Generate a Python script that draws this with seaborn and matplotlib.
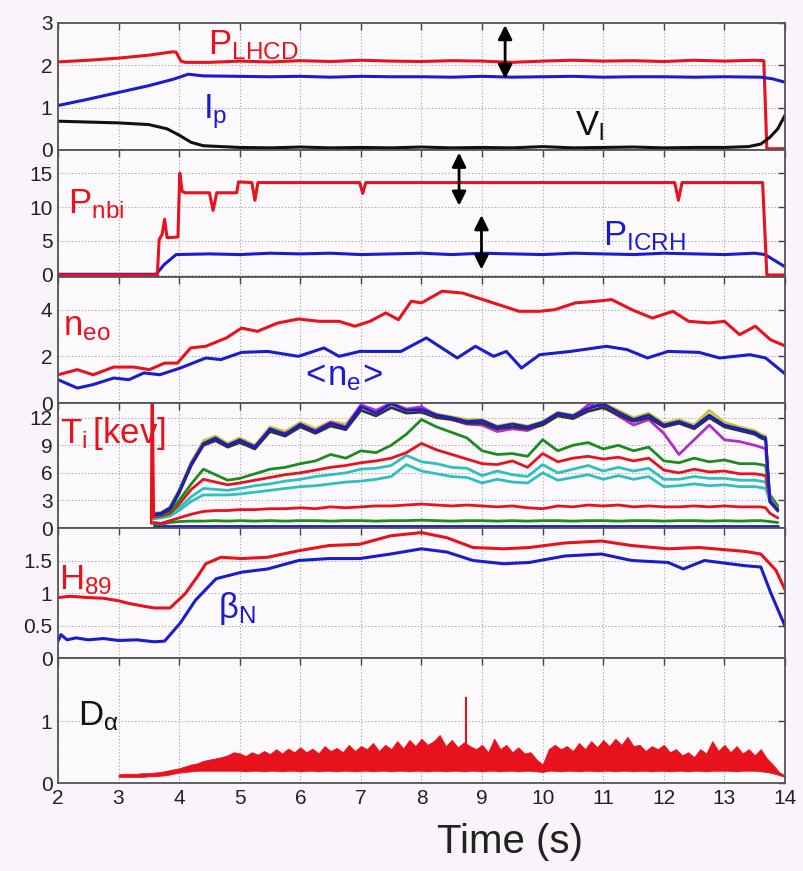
#!/usr/bin/env python3
"""
Tokamak shot overview - six stacked time traces sharing one time axis.
Values read off the reference figure by eye.
"""

import numpy as np
import pandas as pd
import matplotlib
matplotlib.use("Agg")
import matplotlib.pyplot as plt
import seaborn as sns

# ---------------- data ----------------
# panel 1: P_LHCD, Ip, V_loop
t_lhcd = [2.0, 2.5, 3.0, 3.5, 3.9, 3.95, 4.03, 4.1, 4.5, 5.0, 5.5, 6.0, 6.5, 7.0, 7.5,
          8.0, 8.5, 9.0, 9.5, 10.0, 10.5, 11.0, 11.5, 12.0, 12.5, 13.0, 13.5, 13.65, 13.7, 14.0]
p_lhcd = [2.08, 2.12, 2.17, 2.24, 2.32, 2.31, 2.1, 2.07, 2.07, 2.1, 2.08, 2.11, 2.09, 2.12, 2.1,
          2.09, 2.11, 2.1, 2.07, 2.1, 2.12, 2.1, 2.11, 2.09, 2.12, 2.1, 2.12, 2.11, 0.03, 0.03]

t_ip = [2.0, 2.5, 3.0, 3.5, 3.9, 4.15, 4.4, 5.0, 5.5, 6.0, 6.5, 7.0, 7.5, 8.0, 8.5, 9.0,
        9.5, 10.0, 10.5, 11.0, 11.5, 12.0, 12.5, 13.0, 13.6, 13.8, 14.0]
ip = [1.05, 1.2, 1.36, 1.52, 1.67, 1.79, 1.75, 1.74, 1.73, 1.74, 1.72, 1.74, 1.73, 1.73, 1.72, 1.74,
      1.72, 1.73, 1.74, 1.72, 1.73, 1.73, 1.72, 1.73, 1.72, 1.68, 1.6]

t_vl = [2.0, 2.5, 3.0, 3.5, 3.8, 4.0, 4.2, 4.4, 4.7, 5.0, 5.5, 6.0, 6.5, 7.0, 7.5, 8.0,
        8.5, 9.0, 9.5, 10.0, 10.5, 11.0, 11.5, 12.0, 12.5, 13.0, 13.4, 13.6, 13.75, 13.88, 14.0]
vl = [0.68, 0.66, 0.64, 0.6, 0.5, 0.35, 0.18, 0.1, 0.08, 0.06, 0.05, 0.07, 0.05, 0.06, 0.05, 0.07,
      0.05, 0.06, 0.05, 0.08, 0.05, 0.06, 0.07, 0.05, 0.06, 0.06, 0.08, 0.14, 0.3, 0.5, 0.82]

# panel 2: P_nbi, P_ICRH
t_nbi = [2.0, 3.64, 3.67, 3.72, 3.76, 3.8, 3.86, 3.98, 4.01, 4.05, 4.1, 4.5, 4.56, 4.62,
         4.95, 4.98, 5.2, 5.25, 5.3, 6.98, 7.03, 7.08, 12.18, 12.24, 12.3, 13.63, 13.7, 14.0]
p_nbi = [0, 0, 5.2, 6.0, 8.2, 5.5, 5.5, 5.6, 15.0, 12.3, 12.1, 12.1, 9.5, 12.1,
         12.1, 13.7, 13.6, 11.0, 13.6, 13.6, 12.0, 13.6, 13.6, 11.0, 13.6, 13.6, 0, 0]

t_icrh = [2.0, 3.62, 3.75, 3.95, 4.5, 5.0, 5.5, 6.0, 6.5, 7.0, 7.5, 8.0, 8.5, 9.0, 9.5,
          10.0, 10.5, 11.0, 11.5, 12.0, 12.5, 13.0, 13.5, 13.67, 14.0]
p_icrh = [0.1, 0.1, 1.5, 3.0, 3.1, 3.0, 3.2, 3.1, 3.2, 3.0, 3.1, 3.2, 3.0, 3.2, 3.1,
          3.0, 3.2, 3.1, 3.0, 3.2, 3.1, 3.0, 3.2, 3.0, 1.2]

# panel 3: central and line-averaged density
t_neo = [2.0, 2.32, 2.58, 2.92, 3.25, 3.51, 3.76, 3.97, 4.19, 4.44, 4.78, 5.03, 5.29, 5.63,
         5.97, 6.31, 6.64, 6.9, 7.15, 7.41, 7.62, 7.83, 8.0, 8.34, 8.68, 9.1, 9.61, 9.95,
         10.2, 10.54, 10.88, 11.14, 11.47, 11.81, 12.15, 12.41, 12.75, 13.0, 13.25, 13.51, 13.76, 14.0]
neo = [1.21, 1.43, 1.21, 1.54, 1.54, 1.43, 1.71, 1.71, 2.36, 2.43, 2.79, 3.21, 3.07, 3.43,
       3.6, 3.5, 3.5, 3.29, 3.5, 3.86, 3.57, 4.36, 4.29, 4.79, 4.71, 4.36, 3.93, 3.93,
       4.0, 4.29, 4.36, 4.43, 4.0, 3.64, 3.93, 3.5, 3.43, 3.5, 2.93, 3.29, 2.71, 2.45]

t_ne = [2.0, 2.32, 2.58, 2.92, 3.17, 3.42, 3.68, 4.02, 4.44, 4.69, 5.03, 5.46, 5.97, 6.39,
        6.64, 6.98, 7.66, 8.08, 8.59, 8.89, 9.19, 9.4, 9.65, 9.95, 10.46, 11.05, 11.39,
        11.73, 12.07, 12.58, 12.92, 13.42, 13.68, 14.0]
ne = [1.0, 0.64, 0.79, 1.07, 1.0, 1.29, 1.21, 1.5, 1.93, 1.86, 2.17, 2.21, 2.0, 2.36,
      2.0, 2.21, 2.21, 2.79, 1.93, 2.43, 2.0, 2.21, 1.5, 2.07, 2.21, 2.43, 2.29,
      1.93, 2.21, 2.17, 1.93, 2.07, 1.93, 1.25]

# panel 4: ion temperature at several radii (keV)
t_ti = [3.58, 3.7, 3.85, 4.0, 4.2, 4.4, 4.6, 4.8, 5.0,
        5.25, 5.5, 5.75, 6.0, 6.25, 6.5, 6.75, 7.0, 7.25, 7.5, 7.75, 8.0,
        8.25, 8.5, 8.75, 9.0, 9.25, 9.5, 9.75, 10.0, 10.25, 10.5, 10.75, 11.0,
        11.25, 11.5, 11.75, 12.0, 12.25, 12.5, 12.75, 13.0, 13.25, 13.5,
        13.6, 13.68, 13.75, 13.88]
ti_yellow = [1.6, 1.7, 2.3, 4.2, 7.2, 9.5, 10.0, 9.2, 9.8,
             9.0, 11.0, 10.5, 11.5, 10.8, 11.6, 11.3, 13.3, 12.7, 13.6, 13.0, 13.1,
             12.4, 12.1, 11.8, 11.8, 11.1, 11.4, 11.1, 11.6, 12.6, 12.3, 13.2, 13.6,
             12.8, 12.0, 12.5, 11.4, 11.8, 11.2, 12.8, 11.5, 11.0, 10.6,
             10.2, 10.0, 3.1, 2.1]
ti_purple = [1.5, 1.6, 2.1, 3.9, 6.9, 9.1, 9.7, 9.0, 9.5,
             8.9, 10.6, 10.3, 11.1, 10.6, 11.5, 11.0, 13.4, 12.8, 13.6, 12.9, 13.2,
             12.2, 11.8, 11.3, 11.2, 10.5, 10.8, 10.6, 11.3, 12.3, 12.0, 13.4, 13.2,
             12.2, 11.2, 11.8, 10.3, 8.0, 9.6, 11.2, 9.6, 9.4, 9.0,
             8.8, 8.6, 2.8, 1.9]
ti_black = [1.4, 1.5, 2.0, 3.8, 6.8, 9.0, 9.5, 8.8, 9.3,
            8.6, 10.5, 10.0, 11.0, 10.3, 11.1, 10.7, 12.8, 12.2, 13.1, 12.5, 12.6,
            12.0, 11.8, 11.4, 11.4, 10.8, 11.0, 10.8, 11.2, 12.2, 11.9, 12.7, 13.1,
            12.3, 11.6, 12.0, 11.0, 11.4, 10.8, 12.0, 11.0, 10.6, 10.2,
            9.8, 9.6, 2.9, 1.9]
ti_blue = [1.5, 1.6, 2.2, 4.0, 7.0, 9.2, 9.8, 9.0, 9.6,
           8.8, 10.8, 10.2, 11.3, 10.5, 11.4, 10.9, 13.2, 12.5, 13.5, 12.8, 12.9,
           12.3, 12.0, 11.6, 11.7, 11.0, 11.3, 11.0, 11.5, 12.5, 12.2, 13.0, 13.5,
           12.6, 11.8, 12.3, 11.2, 11.6, 11.0, 12.3, 11.2, 10.8, 10.4,
           10.0, 9.8, 3.0, 2.0]
ti_green = [1.3, 1.4, 1.8, 3.0, 4.8, 6.4, 5.8, 5.2, 5.4,
            5.9, 6.4, 6.6, 7.0, 7.3, 8.0, 7.6, 8.4, 8.2, 9.0, 10.2, 11.8,
            11.0, 10.4, 9.8, 8.4, 8.0, 8.1, 7.8, 9.6, 8.4, 9.0, 9.3, 8.6,
            9.0, 8.4, 8.8, 7.3, 7.1, 7.6, 7.2, 7.4, 7.0, 7.0,
            6.9, 6.8, 3.6, 2.4]
ti_red = [1.2, 1.3, 1.6, 2.6, 4.2, 5.3, 5.0, 4.7, 4.9,
          5.2, 5.5, 5.8, 6.0, 6.3, 6.6, 6.8, 7.1, 7.3, 7.6, 8.2, 9.2,
          8.5, 8.0, 7.5, 7.0, 6.9, 7.3, 6.6, 8.1, 7.2, 7.6, 7.8, 7.5,
          7.7, 7.3, 7.6, 6.3, 6.0, 6.4, 6.1, 6.2, 5.9, 5.9,
          5.8, 5.7, 3.2, 2.2]
ti_cyan1 = [1.1, 1.2, 1.4, 2.2, 3.4, 4.3, 4.2, 4.1, 4.3,
            4.6, 4.8, 5.1, 5.3, 5.6, 5.8, 6.0, 6.4, 6.5, 6.8, 7.9, 7.2,
            7.0, 6.6, 6.5, 5.7, 6.2, 5.8, 5.6, 6.9, 6.0, 6.4, 6.8, 6.2,
            6.6, 6.2, 6.5, 5.3, 5.3, 5.6, 5.4, 5.4, 5.2, 5.2,
            5.1, 5.0, 3.2, 2.0]
ti_cyan2 = [1.0, 1.1, 1.3, 1.9, 2.9, 3.6, 3.6, 3.6, 3.7,
            3.9, 4.1, 4.3, 4.5, 4.6, 4.8, 5.0, 5.1, 5.3, 5.6, 6.9, 6.2,
            5.9, 5.6, 5.5, 4.9, 5.3, 5.0, 4.9, 6.0, 5.2, 5.5, 5.8, 5.3,
            5.7, 5.3, 5.6, 4.5, 4.6, 4.8, 4.6, 4.7, 4.5, 4.5,
            4.4, 4.3, 2.9, 1.8]
ti_red_edge = [0.6, 0.5, 0.8, 1.1, 1.5, 1.8, 1.9, 1.9, 2.0,
               2.0, 2.1, 2.1, 2.2, 2.1, 2.3, 2.2, 2.3, 2.4, 2.4, 2.5, 2.6,
               2.5, 2.4, 2.5, 2.4, 2.3, 2.4, 2.2, 2.1, 2.4, 2.3, 2.5, 2.4,
               2.5, 2.3, 2.4, 2.3, 2.3, 2.4, 2.3, 2.4, 2.3, 2.3,
               2.3, 2.2, 1.6, 1.1]
ti_green_edge = [0.4, 0.4, 0.6, 0.7, 0.75, 0.75, 0.8, 0.75, 0.8,
                 0.75, 0.8, 0.75, 0.8, 0.8, 0.75, 0.8, 0.8, 0.75, 0.8, 0.8, 0.85,
                 0.8, 0.75, 0.8, 0.8, 0.75, 0.8, 0.75, 0.8, 0.8, 0.75, 0.8, 0.8,
                 0.75, 0.8, 0.8, 0.75, 0.8, 0.8, 0.75, 0.8, 0.75, 0.8,
                 0.8, 0.75, 0.7, 0.6]
t_ti_floor = [3.58, 13.88]
ti_floor = [0.25, 0.25]
t_ti_spike = [3.54, 3.55, 3.56, 3.58]
ti_spike = [0.5, 14.0, 14.0, 1.2]

# panel 5: H89 and beta_N
t_h89 = [2.0, 2.2, 2.5, 2.75, 3.0, 3.17, 3.4, 3.59, 3.85, 4.1, 4.3, 4.44, 4.69, 5.03, 5.46,
         5.97, 6.47, 6.98, 7.49, 8.0, 8.42, 8.85, 9.36, 9.78, 10.37, 10.97, 11.47, 12.07,
         12.58, 13.34, 13.6, 13.85, 14.0]
h89 = [0.93, 0.95, 0.93, 0.92, 0.88, 0.84, 0.8, 0.77, 0.77, 0.99, 1.25, 1.45, 1.55, 1.53, 1.55,
       1.65, 1.73, 1.75, 1.88, 1.93, 1.85, 1.7, 1.68, 1.7, 1.77, 1.8, 1.73, 1.68,
       1.7, 1.64, 1.6, 1.35, 1.05]

t_betan = [2.0, 2.05, 2.15, 2.3, 2.5, 2.75, 3.0, 3.3, 3.59, 3.76, 4.02, 4.27, 4.61, 5.03,
           5.46, 5.97, 6.47, 6.98, 7.49, 8.0, 8.42, 8.85, 9.36, 9.78, 10.37, 10.97, 11.47,
           12.07, 12.32, 12.67, 13.34, 13.6, 13.77, 14.0]
betan = [0.26, 0.36, 0.28, 0.31, 0.28, 0.3, 0.27, 0.28, 0.25, 0.26, 0.54, 0.89, 1.22, 1.32,
         1.37, 1.5, 1.53, 1.53, 1.6, 1.68, 1.63, 1.5, 1.45, 1.47, 1.57, 1.6, 1.5,
         1.47, 1.37, 1.5, 1.42, 1.4, 0.99, 0.49]

# panel 6: D-alpha (drawn as a band between a floor and a spiky top)
t_da = [3.0, 3.1, 3.2, 3.3, 3.4, 3.5, 3.6, 3.7, 3.8, 3.9,
        4.0, 4.1, 4.2, 4.3, 4.4, 4.5, 4.6, 4.7, 4.8, 4.9,
        5.0, 5.1, 5.2, 5.3, 5.4, 5.5, 5.6, 5.7, 5.8, 5.9,
        6.0, 6.1, 6.2, 6.3, 6.4, 6.5, 6.6, 6.7, 6.8, 6.9,
        7.0, 7.1, 7.2, 7.3, 7.4, 7.5, 7.6, 7.7, 7.8, 7.9,
        8.0, 8.1, 8.2, 8.3, 8.4, 8.5, 8.6, 8.7, 8.8, 8.9,
        9.0, 9.1, 9.2, 9.3, 9.4, 9.5, 9.6, 9.7, 9.8, 9.9,
        10.0, 10.1, 10.2, 10.3, 10.4, 10.5, 10.6, 10.7, 10.8, 10.9,
        11.0, 11.1, 11.2, 11.3, 11.4, 11.5, 11.6, 11.7, 11.8, 11.9,
        12.0, 12.1, 12.2, 12.3, 12.4, 12.5, 12.6, 12.7, 12.8, 12.9,
        13.0, 13.1, 13.2, 13.3, 13.4, 13.5, 13.6, 13.7, 13.8, 13.9,
        14.0]
da_top = [0.14, 0.15, 0.15, 0.15, 0.16, 0.16, 0.17, 0.18, 0.2, 0.22,
          0.24, 0.27, 0.3, 0.32, 0.36, 0.38, 0.4, 0.42, 0.45, 0.5,
          0.48, 0.44, 0.5, 0.46, 0.52, 0.47, 0.55, 0.48, 0.56, 0.5,
          0.58, 0.5, 0.56, 0.48, 0.6, 0.52, 0.57, 0.5, 0.62, 0.52,
          0.6, 0.55, 0.65, 0.52, 0.62, 0.55, 0.68, 0.56, 0.7, 0.6,
          0.72, 0.62, 0.68, 0.78, 0.6, 0.7, 0.58, 0.66, 0.6, 0.55,
          0.62, 0.5, 0.72, 0.55, 0.62, 0.5, 0.58, 0.48, 0.5, 0.38,
          0.3, 0.55, 0.62, 0.55, 0.6, 0.52, 0.65, 0.55, 0.68, 0.58,
          0.7, 0.6, 0.72, 0.62, 0.75, 0.6, 0.62, 0.52, 0.6, 0.55,
          0.62, 0.5, 0.55, 0.45, 0.5, 0.42, 0.55, 0.48, 0.68, 0.52,
          0.62, 0.5, 0.6, 0.48, 0.55, 0.45, 0.55, 0.4, 0.3, 0.18,
          0.12]
da_floor = [0.1, 0.1, 0.1, 0.1, 0.1, 0.11, 0.11, 0.12, 0.13, 0.15,
            0.17, 0.18, 0.19, 0.2, 0.2, 0.2, 0.2, 0.2, 0.2, 0.2,
            0.2, 0.19, 0.2, 0.2, 0.19, 0.2, 0.2, 0.19, 0.2, 0.2,
            0.19, 0.2, 0.2, 0.19, 0.2, 0.2, 0.19, 0.2, 0.2, 0.19,
            0.2, 0.2, 0.19, 0.2, 0.2, 0.19, 0.2, 0.2, 0.19, 0.2,
            0.2, 0.19, 0.2, 0.2, 0.19, 0.2, 0.2, 0.19, 0.2, 0.2,
            0.19, 0.2, 0.2, 0.19, 0.2, 0.2, 0.19, 0.2, 0.2, 0.19,
            0.18, 0.2, 0.2, 0.19, 0.2, 0.2, 0.19, 0.2, 0.2, 0.19,
            0.2, 0.2, 0.19, 0.2, 0.2, 0.19, 0.2, 0.2, 0.19, 0.2,
            0.2, 0.19, 0.2, 0.2, 0.19, 0.2, 0.2, 0.19, 0.2, 0.2,
            0.2, 0.2, 0.19, 0.2, 0.2, 0.2, 0.19, 0.18, 0.16, 0.13,
            0.1]
da_spike_t = 8.73
da_spike_lo = 0.3
da_spike_hi = 1.4

# double arrows marking the modulation (panel, time, from, to)
arrows = [(0, 9.38, 2.95, 1.68), (1, 8.62, 18.0, 10.2), (1, 8.99, 8.8, 0.8)]

# ---------------- style ----------------
RED = "#e8121c"
BLUE = "#1c1ccf"
BLACK = "#111111"
GREEN = "#1f8a1f"
CYAN = "#2fbfbf"
PURPLE = "#b02ccc"
YELLOW = "#c9c91a"

sns.set_theme(style="white")
# narrow Helvetica-like look; Liberation Sans is the closest installed face
plt.rcParams["font.family"] = ["Liberation Sans", "DejaVu Sans"]
plt.rcParams["mathtext.fontset"] = "custom"
plt.rcParams["mathtext.rm"] = "Liberation Sans"
plt.rcParams["mathtext.it"] = "Liberation Sans"
plt.rcParams["mathtext.bf"] = "Liberation Sans"

FIG_BG = "#f9f4f9"
AX_BG = "#fcf9fc"


def long_frame(series):
    """Stack a dict of name -> (t, values) into one long frame for seaborn."""
    parts = [pd.DataFrame({"t": t, "v": v, "s": name}) for name, (t, v) in series.items()]
    return pd.concat(parts, ignore_index=True)


def draw_lines(ax, series, palette, lw=2.2):
    df = long_frame(series)
    sns.lineplot(data=df, x="t", y="v", hue="s", hue_order=list(series.keys()),
                 palette=palette, estimator=None, sort=False, lw=lw,
                 legend=False, ax=ax)


fig = plt.figure(figsize=(8.04, 8.71), dpi=100, facecolor=FIG_BG)

# panel boxes in figure fractions (left, bottom, width, height)
left, width = 0.0721, 0.9043
boxes = [(0.8278, 0.1458), (0.6820, 0.1458), (0.5373, 0.1447),
         (0.3938, 0.1435), (0.2445, 0.1493), (0.1010, 0.1435)]
axes = [fig.add_axes([left, b, width, h]) for b, h in boxes]

ylims = [(0, 3), (-0.3, 18.4), (0, 5.4), (0, 13.6), (0, 2.0), (0, 2.03)]
yticks = [[0, 1, 2, 3], [0, 5, 10, 15], [0, 2, 4], [0, 3, 6, 9, 12],
          [0, 0.5, 1, 1.5], [0, 1]]
ylabels_txt = [["0", "1", "2", "3"], ["0", "5", "10", "15"], ["0", "2", "4"],
               ["0", "3", "6", "9", "12"], ["0", "0.5", "1", "1.5"], ["0", "1"]]

# panel 1
draw_lines(axes[0], {"lhcd": (t_lhcd, p_lhcd), "ip": (t_ip, ip), "vl": (t_vl, vl)},
           {"lhcd": RED, "ip": BLUE, "vl": BLACK})
# panel 2
draw_lines(axes[1], {"icrh": (t_icrh, p_icrh), "nbi": (t_nbi, p_nbi)},
           {"icrh": BLUE, "nbi": RED})
# panel 3
draw_lines(axes[2], {"neo": (t_neo, neo), "ne": (t_ne, ne)},
           {"neo": RED, "ne": BLUE})
# panel 4
ti_series = {
    "floor": (t_ti_floor, ti_floor),
    "green_edge": (t_ti, ti_green_edge),
    "red_edge": (t_ti, ti_red_edge),
    "cyan2": (t_ti, ti_cyan2),
    "cyan1": (t_ti, ti_cyan1),
    "red": (t_ti, ti_red),
    "green": (t_ti, ti_green),
    "yellow": (t_ti, ti_yellow),
    "purple": (t_ti, ti_purple),
    "black": (t_ti, ti_black),
    "blue": (t_ti, ti_blue),
    "spike": (t_ti_spike, ti_spike),
}
ti_pal = {"floor": BLUE, "green_edge": GREEN, "red_edge": RED, "cyan2": CYAN,
          "cyan1": CYAN, "red": RED, "green": GREEN, "yellow": YELLOW,
          "purple": PURPLE, "black": "#333333", "blue": BLUE, "spike": RED}
draw_lines(axes[3], ti_series, ti_pal, lw=2.0)
# panel 5
draw_lines(axes[4], {"h89": (t_h89, h89), "betan": (t_betan, betan)},
           {"h89": RED, "betan": BLUE})
# panel 6
axes[5].fill_between(t_da, da_floor, da_top, color=RED, lw=0.6, edgecolor=RED)
axes[5].vlines(da_spike_t, da_spike_lo, da_spike_hi, color=RED, lw=1.5)

# panel labels
lab_kw = dict(fontsize=25, va="baseline", ha="left")
axes[0].text(4.48, 2.25, r"$\mathrm{P}_{\mathrm{LHCD}}$", color=RED, **lab_kw)
axes[0].text(4.39, 0.76, r"$\mathrm{I}_{\mathrm{p}}$", color=BLUE, **lab_kw)
axes[0].text(10.53, 0.35, r"$\mathrm{V}_{\mathrm{l}}$", color=BLACK, **lab_kw)
axes[1].text(2.17, 9.1, r"$\mathrm{P}_{\mathrm{nbi}}$", color=RED, **lab_kw)
axes[1].text(11.0, 4.3, r"$\mathrm{P}_{\mathrm{ICRH}}$", color=BLUE, **lab_kw)
axes[2].text(2.08, 2.9, r"$\mathrm{n}_{\mathrm{eo}}$", color=RED, **lab_kw)
axes[2].text(6.0, 0.77, r"$<\!\mathrm{n}_{\mathrm{e}}\!>$", color=BLUE, **lab_kw)
axes[3].text(2.03, 9.3, r"$\mathrm{T}_{\mathrm{i}}\,\mathrm{[kev]}$", color=RED, **lab_kw)
axes[4].text(2.02, 1.05, r"$\mathrm{H}_{\mathrm{89}}$", color=RED, **lab_kw)
axes[4].text(4.64, 0.62, r"$\mathrm{\beta}_{\mathrm{N}}$", color=BLUE, **lab_kw)
axes[5].text(2.33, 0.94, r"$\mathrm{D}_{\mathrm{\alpha}}$", color=BLACK, **lab_kw)

for k, t0, y0, y1 in arrows:
    axes[k].annotate("", xy=(t0, y1), xytext=(t0, y0),
                     arrowprops=dict(arrowstyle="<|-|>,head_length=0.7,head_width=0.35",
                                     color="black", lw=2, shrinkA=0, shrinkB=0))

for i, ax in enumerate(axes):
    ax.set_facecolor(AX_BG)
    ax.set_xlim(2, 14)
    ax.set_ylim(*ylims[i])
    ax.set_xticks(range(2, 15))
    ax.set_yticks(yticks[i])
    ax.set_yticklabels(ylabels_txt[i])
    ax.set_xlabel("")
    ax.set_ylabel("")
    ax.grid(True, ls=(0, (1, 2)), color="#a0a0a0", lw=0.8)
    ax.tick_params(direction="in", length=5, width=1, top=True, right=True,
                   color="#444444", labelcolor="#222222", labelsize=15, pad=4)
    for sp in ax.spines.values():
        sp.set_color("#555555")
        sp.set_linewidth(1.3)
    if i < len(axes) - 1:
        ax.tick_params(labelbottom=False)

fig.text(0.634, 0.033, "Time (s)", fontsize=29, ha="center", va="center", color="#222222")

fig.savefig("out.png", dpi=100, facecolor=FIG_BG)
